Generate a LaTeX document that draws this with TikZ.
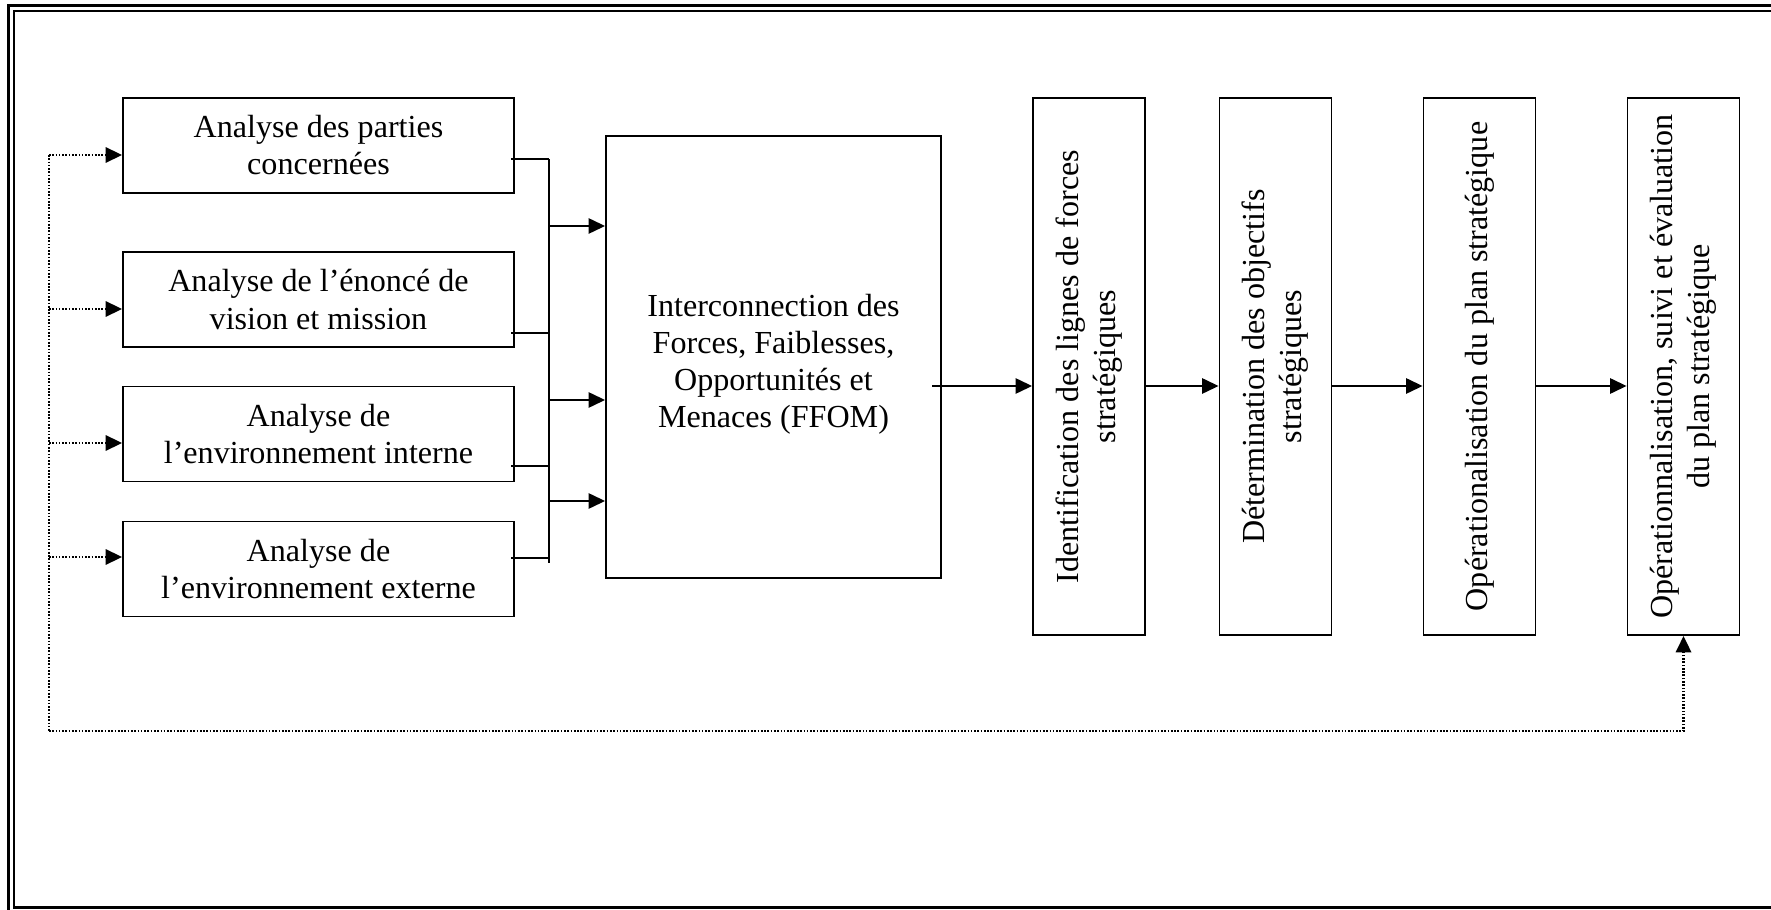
\documentclass[tikz,border=0pt]{standalone}
\usepackage{fontspec}
\setmainfont{Liberation Serif}
\usetikzlibrary{arrows.meta,positioning}
\tikzstyle{box}  = [rectangle, draw, line width=0.8pt, inner sep=2pt, align=center,
                    font=\fontsize{13.7}{15.8}\selectfont]
\tikzstyle{flow} = [line width=0.8pt, -{Triangle[length=7pt,width=6.5pt]}]
\tikzstyle{feed} = [line width=1.1pt, dash pattern=on 0.7pt off 0.7pt]

\begin{document}
\begin{tikzpicture}[x=0.015cm, y=-0.015cm,
		part/.style={box, minimum width=5.865cm, minimum height=1.425cm},
		stage/.style={box, rotate=90, minimum width=8.055cm, minimum height=1.68cm},
		feedarrow/.style={feed, -{Triangle[length=7pt,width=6.5pt]}}
	]
	\useasboundingbox (0,0) rectangle (1771,910);
	\draw[line width=1.3pt] (8.5,5.5) rectangle (1800,940);
	\draw[line width=0.9pt] (14,11) rectangle (1785,907.5);

	\node[part] (b1) at (318.5,145.5) {Analyse des parties\\concernées};
	\node[part] (b2) at (318.5,299.5) {Analyse de l’énoncé de\\vision et mission};
	\node[part] (b3) at (318.5,434) {Analyse de\\l’environnement interne};
	\node[part] (b4) at (318.5,569) {Analyse de\\l’environnement externe};
	\node[box, minimum width=5.025cm, minimum height=6.63cm] (ffom) at (773.5,357)
		{\\Interconnection des\\Forces, Faiblesses,\\Opportunités et\\Menaces (FFOM)};
	\node[stage] (v1) at (1089,366.5) {Identification des lignes de forces\\stratégiques};
	\node[stage] (v2) at (1275.5,366.5) {Détermination des objectifs\\stratégiques};
	\node[stage] (v3) at (1479.5,366.5) {Opérationalisation du plan stratégique};
	\node[stage] (v4) at (1683.5,366.5) {Opérationnalisation, suivi et évaluation\\du plan stratégique};

	\coordinate (s1) at (549,159);
	\coordinate (s2) at (549,333);
	\coordinate (s3) at (549,466);
	\coordinate (s4) at (549,558);
	\coordinate (a1) at (549,226);
	\coordinate (a2) at (549,400);
	\coordinate (a3) at (549,501);
	\draw[line width=0.8pt] (s1) -- (549,563);
	\foreach \i in {1,...,4}
		\draw[line width=0.8pt] ([xshift=-1.5pt]s\i -| b\i.east) -- (s\i);
	\foreach \i in {1,2,3}
		\draw[flow] (a\i) -- (a\i -| ffom.west);

	% the stages are turned by 90 degrees: north is their left side
	\coordinate (m) at (932,386);
	\draw[flow] (m) -- (m -| v1.north);
	\draw[flow] (v1.south |- m) -- (v2.north |- m);
	\draw[flow] (v2.south |- m) -- (v3.north |- m);
	\draw[flow] (v3.south |- m) -- (v4.north |- m);

	\coordinate (d1) at (49,155);
	\coordinate (d2) at (49,309);
	\coordinate (d3) at (49,443);
	\coordinate (d4) at (49,557);
	\coordinate (fb) at (49,731);
	\draw[feed] (d1) -- (fb);
	\foreach \i in {1,...,4}
		\draw[feedarrow] (d\i) -- (d\i -| b\i.west);
	\draw[feedarrow] (fb) -- (fb -| v4.west) -- (v4.west);
\end{tikzpicture}
\end{document}
